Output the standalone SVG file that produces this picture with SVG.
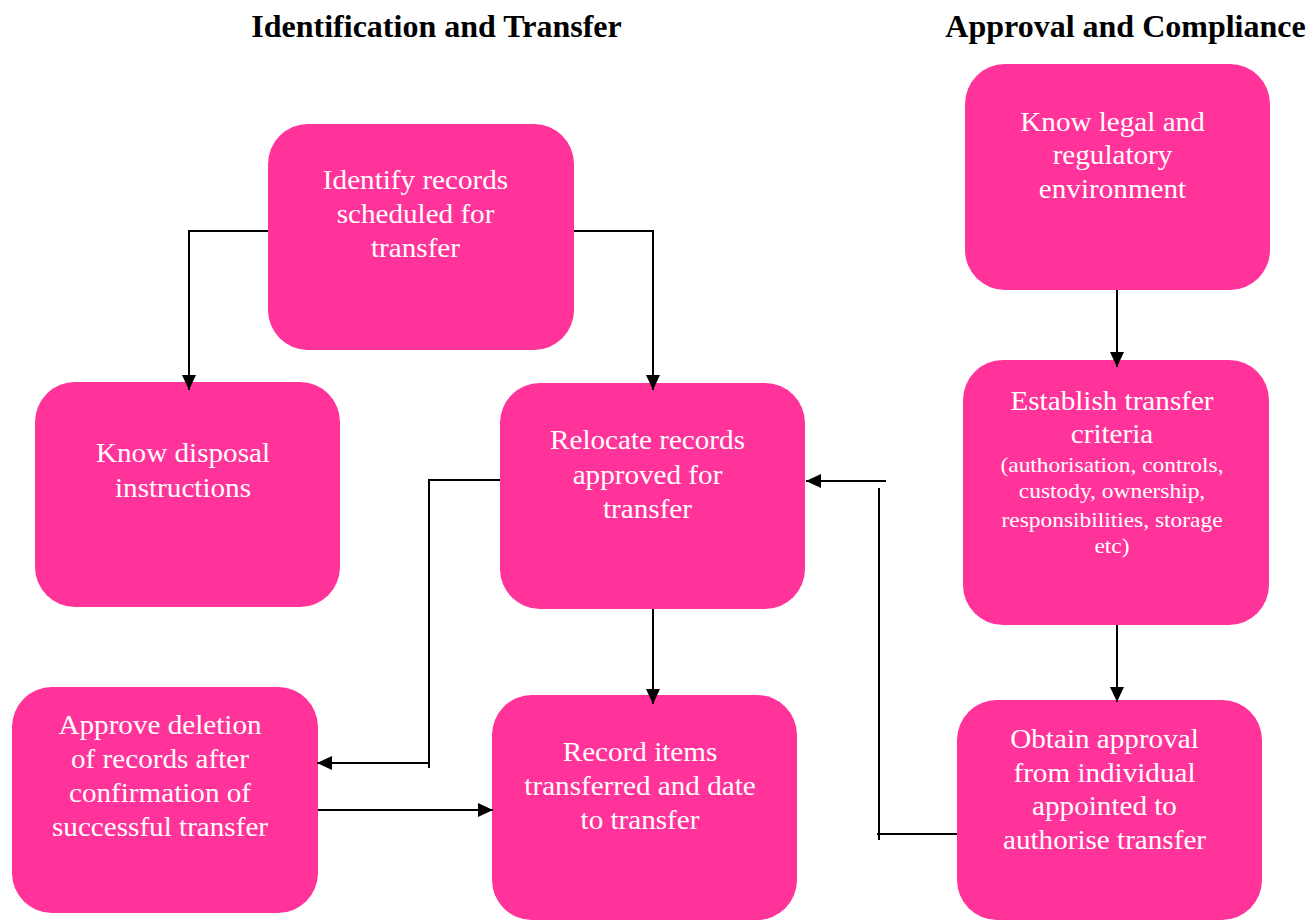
<svg xmlns="http://www.w3.org/2000/svg" width="1312" height="922" viewBox="0 0 1312 922">
<style>
.box{fill:#FF3399}
.t{font-family:"Liberation Serif","Times New Roman",Tinos,"DejaVu Serif",serif;font-size:26.5px;fill:#FFFFFF;text-anchor:middle}
.s{font-size:21.3px}
.h{font-family:"Liberation Serif","Times New Roman",Tinos,"DejaVu Serif",serif;font-size:32px;font-weight:bold;fill:#000;text-anchor:middle}
.c{fill:none;stroke:#000;stroke-width:2}
</style>
<defs>
<marker id="ah" markerWidth="15" markerHeight="14" refX="15" refY="7" orient="auto" markerUnits="userSpaceOnUse">
<path d="M0,0 L15,7 L0,14 Z" fill="#000"/>
</marker>
</defs>
<rect width="1312" height="922" fill="#fff"/>
<text class="h" x="436.5" y="37">Identification and Transfer</text>
<text class="h" x="1125.5" y="37">Approval and Compliance</text>

<g id="identify">
<rect class="box" x="268" y="124" width="306" height="226" rx="40"/>
<g transform="translate(415.5,0) scale(1.1,1)">
<text class="t" x="0" y="189">Identify records</text>
<text class="t" x="0" y="223">scheduled for</text>
<text class="t" x="0" y="257">transfer</text>
</g>
</g>
<g id="disposal">
<rect class="box" x="35" y="382" width="305" height="225" rx="40"/>
<g transform="translate(183,0) scale(1.1,1)">
<text class="t" x="0" y="462">Know disposal</text>
<text class="t" x="0" y="497">instructions</text>
</g>
</g>
<g id="relocate">
<rect class="box" x="500" y="383" width="305" height="226" rx="40"/>
<g transform="translate(647.5,0) scale(1.1,1)">
<text class="t" x="0" y="449">Relocate records</text>
<text class="t" x="0" y="484">approved for</text>
<text class="t" x="0" y="518">transfer</text>
</g>
</g>
<g id="approve">
<rect class="box" x="12" y="687" width="306" height="226" rx="40"/>
<g transform="translate(160,0) scale(1.1,1)">
<text class="t" x="0" y="734">Approve deletion</text>
<text class="t" x="0" y="768">of records after</text>
<text class="t" x="0" y="802">confirmation of</text>
<text class="t" x="0" y="836">successful transfer</text>
</g>
</g>
<g id="record">
<rect class="box" x="492" y="695" width="305" height="225" rx="40"/>
<g transform="translate(640,0) scale(1.1,1)">
<text class="t" x="0" y="761">Record items</text>
<text class="t" x="0" y="795">transferred and date</text>
<text class="t" x="0" y="829">to transfer</text>
</g>
</g>
<g id="legal">
<rect class="box" x="965" y="64" width="305" height="226" rx="40"/>
<g transform="translate(1112.5,0) scale(1.1,1)">
<text class="t" x="0" y="131">Know legal and</text>
<text class="t" x="0" y="164">regulatory</text>
<text class="t" x="0" y="198">environment</text>
</g>
</g>
<g id="criteria">
<rect class="box" x="963" y="360" width="306" height="265" rx="40"/>
<g transform="translate(1112,0) scale(1.1,1)">
<text class="t" x="0" y="410">Establish transfer</text>
<text class="t" x="0" y="443">criteria</text>
<text class="t s" x="0" y="472">(authorisation, controls,</text>
<text class="t s" x="0" y="498">custody, ownership,</text>
<text class="t s" x="0" y="527">responsibilities, storage</text>
<text class="t s" x="0" y="553">etc)</text>
</g>
</g>
<g id="obtain">
<rect class="box" x="957" y="700" width="305" height="220" rx="40"/>
<g transform="translate(1104.5,0) scale(1.1,1)">
<text class="t" x="0" y="748">Obtain approval</text>
<text class="t" x="0" y="782">from individual</text>
<text class="t" x="0" y="815">appointed to</text>
<text class="t" x="0" y="849">authorise transfer</text>
</g>
</g>

<g id="connectors">
<path class="c" d="M268,231 H189 V390" marker-end="url(#ah)"/>
<path class="c" d="M574,231 H653 V390" marker-end="url(#ah)"/>
<path class="c" d="M500,480 H429 V768"/>
<path class="c" d="M429,763 H317" marker-end="url(#ah)"/>
<path class="c" d="M318,810 H493" marker-end="url(#ah)"/>
<path class="c" d="M653,609 V704" marker-end="url(#ah)"/>
<path class="c" d="M1117,290 V367" marker-end="url(#ah)"/>
<path class="c" d="M1117,625 V702" marker-end="url(#ah)"/>
<path class="c" d="M957,834 H877"/>
<path class="c" d="M879,488 V840"/>
<path class="c" d="M886,481 H806" marker-end="url(#ah)"/>
</g>
</svg>
